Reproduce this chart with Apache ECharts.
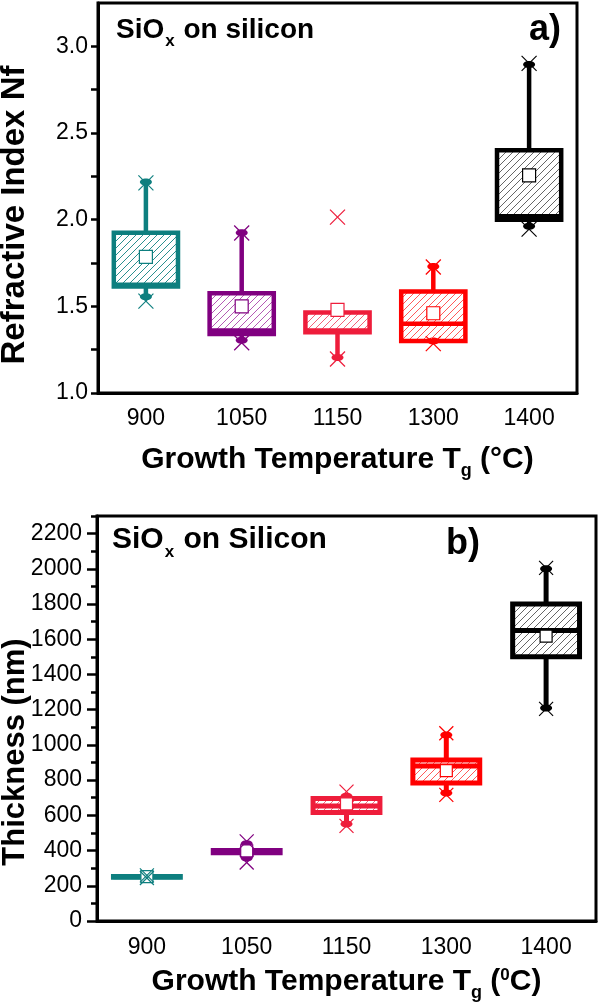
<!DOCTYPE html>
<html><head><meta charset="utf-8">
<script src="https://cdn.jsdelivr.net/npm/echarts@6/dist/echarts.min.js"></script>
<style>html,body{margin:0;padding:0;background:#fff}#c{width:600px;height:1006px}</style>
</head><body><div id="c"></div>
<script>
const F = '"Liberation Sans", Arial, Helvetica, sans-serif';
const categories = ['900', '1050', '1150', '1300', '1400'];
const seriesColors = ['#0E7F7F', '#800080', '#EE1D3B', '#FF0000', '#000000'];
const hatchColors = ['#2A8F8F', '#B45AB4', '#F2637A', '#FF5A5A', '#666666'];

// Panel a) refractive index
const nfWhiskerLow  = [1.555, 1.305, 1.205, 1.300, 1.962];
const nfQ1          = [1.615, 1.340, 1.350, 1.300, 2.000];
const nfMedian      = [1.625, 1.360, 1.360, 1.400, 2.020];
const nfQ3          = [1.925, 1.575, 1.465, 1.585, 2.400];
const nfWhiskerHigh = [2.218, 1.925, 1.465, 1.730, 2.895];
const nfMean        = [1.785, 1.500, 1.480, 1.460, 2.255];
const nfCrossLow    = [1.530, 1.290, 1.196, 1.285, 1.945];
const nfCrossHigh   = [2.212, 1.923, 2.015, 1.727, 2.902];
const nfTickValues  = [1.0, 1.25, 1.5, 1.75, 2.0, 2.25, 2.5, 2.75, 3.0];
const nfLabelValues = [1.0, 1.5, 2.0, 2.5, 3.0];

// Panel b) thickness
const thWhiskerLow  = [246, 358, 551, 727, 1210];
const thQ1          = [249, 388, 616, 784, 1500];
const thMedian      = [251, 394, 653, 880, 1650];
const thQ3          = [253, 400, 696, 915, 1800];
const thWhiskerHigh = [257, 438, 708, 1057, 2000];
const thMean        = [252, 398, 665, 854, 1618];
const thCrossLow    = [244, 332, 540, 716, 1205];
const thCrossHigh   = [259, 452, 735, 1066, 2005];
const thMajorTicks  = [0, 200, 400, 600, 800, 1000, 1200, 1400, 1600, 1800, 2000, 2200];
const thMinorTicks  = [100, 300, 500, 700, 900, 1100, 1300, 1500, 1700, 1900, 2100, 2300];

function hatch(color, s) {
  const cv = document.createElement('canvas');
  cv.width = s; cv.height = s;
  const g = cv.getContext('2d');
  g.strokeStyle = color; g.lineWidth = 1;
  g.beginPath();
  g.moveTo(0, s); g.lineTo(s, 0);
  g.moveTo(-2, 2); g.lineTo(2, -2);
  g.moveTo(s - 2, s + 2); g.lineTo(s + 2, s - 2);
  g.stroke();
  return { image: cv, repeat: 'repeat' };
}
const patterns = hatchColors.map(c => hatch(c, 7));

function buildData(wl, q1, md, q3, wh, mn, xl, xh) {
  return categories.map((c, i) => [i, wl[i], q1[i], md[i], q3[i], wh[i], mn[i], xl[i], xh[i]]);
}

function makeRender(opt) {
  return function (params, api) {
    const i = api.value(0);
    const c = seriesColors[i];
    const band = api.size([1, 0])[0];
    const w = band * opt.boxFrac;
    const cx = api.coord([i, api.value(2)])[0];
    const y = k => api.coord([i, api.value(k)])[1];
    const yWL = y(1), yQ1 = y(2), yMd = y(3), yQ3 = y(4), yWH = y(5), yMn = y(6), yXL = y(7), yXH = y(8);
    const ch = [];
    ch.push({ type: 'line', shape: { x1: cx, y1: yWH, x2: cx, y2: yQ3 }, style: { stroke: c, lineWidth: opt.lw } });
    ch.push({ type: 'line', shape: { x1: cx, y1: yQ1, x2: cx, y2: yWL }, style: { stroke: c, lineWidth: opt.lw } });
    [yWL, yWH].forEach(yy => ch.push({ type: 'ellipse', shape: { cx: cx, cy: yy, rx: opt.dotRx, ry: opt.dotRy }, style: { fill: c } }));
    ch.push({ type: 'rect', shape: { x: cx - w / 2, y: yQ3, width: w, height: yQ1 - yQ3 },
      style: { fill: patterns[i], stroke: c, lineWidth: opt.lw } });
    ch.push({ type: 'line', shape: { x1: cx - w / 2, y1: yMd, x2: cx + w / 2, y2: yMd }, style: { stroke: c, lineWidth: opt.lw } });
    const m = opt.meanSize;
    ch.push({ type: 'rect', shape: { x: cx - m / 2, y: yMn - m / 2, width: m, height: m }, style: { fill: '#fff', stroke: c, lineWidth: 1.2 } });
    const s = opt.cross / 2;
    [yXL, yXH].forEach(yy => {
      ch.push({ type: 'line', shape: { x1: cx - s, y1: yy - s, x2: cx + s, y2: yy + s }, style: { stroke: c, lineWidth: 1.2 } });
      ch.push({ type: 'line', shape: { x1: cx - s, y1: yy + s, x2: cx + s, y2: yy - s }, style: { stroke: c, lineWidth: 1.2 } });
    });
    return { type: 'group', children: ch };
  };
}

const richTitle = {
  m: { fontSize: 30, fontWeight: 'bold', fontFamily: F, color: '#000', verticalAlign: 'top' },
  s: { fontSize: 18, fontWeight: 'bold', fontFamily: F, color: '#000', verticalAlign: 'top', padding: [17, 0, 0, 0] },
  p: { fontSize: 17, fontWeight: 'bold', fontFamily: F, color: '#000', verticalAlign: 'top', padding: [0, 0, 0, 0] }
};

const chart = echarts.init(document.getElementById('c'), null, { renderer: 'canvas' });
chart.setOption({
  animation: false,
  backgroundColor: '#fff',
  grid: [
    { left: 98, top: 3, width: 479, height: 390, show: true, borderColor: '#000', borderWidth: 3, backgroundColor: 'transparent' },
    { left: 97, top: 516, width: 499, height: 405, show: true, borderColor: '#000', borderWidth: 3, backgroundColor: 'transparent' }
  ],
  xAxis: [
    { gridIndex: 0, type: 'category', data: categories, boundaryGap: true,
      axisLine: { lineStyle: { color: '#000', width: 3 } },
      axisTick: { alignWithLabel: true, length: 8, lineStyle: { color: '#000', width: 2.5 } },
      axisLabel: { fontSize: 23, color: '#000', fontFamily: F, margin: 14 },
      name: '{m|Growth Temperature T}{s|g}{m| (°C)}', nameLocation: 'middle', nameGap: 52,
      nameTextStyle: { rich: richTitle } },
    { gridIndex: 1, type: 'category', data: categories, boundaryGap: true,
      axisLine: { lineStyle: { color: '#000', width: 3 } },
      axisTick: { alignWithLabel: true, length: 9, lineStyle: { color: '#000', width: 2.5 } },
      axisLabel: { fontSize: 23, color: '#000', fontFamily: F, margin: 15 },
      name: '{m|Growth Temperature T}{s|g}{m| (}{p|0}{m|C)}', nameLocation: 'middle', nameGap: 46,
      nameTextStyle: { rich: richTitle } }
  ],
  yAxis: [
    { gridIndex: 0, type: 'value', min: 1, max: 3.25, interval: 0.25,
      axisLine: { show: true, lineStyle: { color: '#000', width: 3 } },
      axisTick: { show: true, length: 7, customValues: nfTickValues, lineStyle: { color: '#000', width: 2.5 } },
      axisLabel: { fontSize: 23, color: '#000', fontFamily: F, margin: 10, customValues: nfLabelValues,
        formatter: v => v.toFixed(1) },
      splitLine: { show: false } },
    { gridIndex: 1, type: 'value', min: 0, max: 2300, interval: 100,
      axisLine: { show: true, lineStyle: { color: '#000', width: 3 } },
      axisTick: { show: true, length: 10, customValues: thMajorTicks, lineStyle: { color: '#000', width: 2.5 } },
      axisLabel: { fontSize: 23, color: '#000', fontFamily: F, margin: 15, customValues: thMajorTicks,
        formatter: v => String(v) },
      splitLine: { show: false } },
    { gridIndex: 1, type: 'value', min: 0, max: 2300, interval: 100, position: 'left', offset: 0,
      axisLine: { show: false },
      axisTick: { show: true, length: 6, customValues: thMinorTicks, lineStyle: { color: '#000', width: 2.5 } },
      axisLabel: { show: false }, splitLine: { show: false } }
  ],
  graphic: [
    { type: 'text', x: 15, y: 215, rotation: Math.PI / 2,
      style: { text: 'Refractive Index Nf', font: 'bold 33px ' + F, fill: '#000', align: 'center', verticalAlign: 'middle' } },
    { type: 'text', x: 15, y: 752, rotation: Math.PI / 2,
      style: { text: 'Thickness (nm)', font: 'bold 31px ' + F, fill: '#000', align: 'center', verticalAlign: 'middle' } },
    { type: 'text', left: 116, top: 16,
      style: { text: '{m|SiO}{s|x}{m| on silicon}', rich: {
        m: { fontSize: 28, fontWeight: 'bold', fontFamily: F, fill: '#000', verticalAlign: 'top' },
        s: { fontSize: 17, fontWeight: 'bold', fontFamily: F, fill: '#000', verticalAlign: 'top', padding: [17, 1, 0, 1] } } } },
    { type: 'text', left: 529, top: 12, style: { text: 'a)', font: 'bold 36px ' + F, fill: '#000' } },
    { type: 'text', left: 112, top: 525,
      style: { text: '{m|SiO}{s|x}{m| on Silicon}', rich: {
        m: { fontSize: 30, fontWeight: 'bold', fontFamily: F, fill: '#000', verticalAlign: 'top' },
        s: { fontSize: 17, fontWeight: 'bold', fontFamily: F, fill: '#000', verticalAlign: 'top', padding: [19, 1, 0, 1] } } } },
    { type: 'text', left: 446, top: 526, style: { text: 'b)', font: 'bold 36px ' + F, fill: '#000' } }
  ],
  series: [
    { type: 'custom', xAxisIndex: 0, yAxisIndex: 0,
      renderItem: makeRender({ boxFrac: 0.67, lw: 4.5, meanSize: 13, cross: 15, dotRx: 6, dotRy: 3.5 }),
      data: buildData(nfWhiskerLow, nfQ1, nfMedian, nfQ3, nfWhiskerHigh, nfMean, nfCrossLow, nfCrossHigh),
      encode: { x: 0, y: [1, 2, 3, 4, 5] }, z: 5 },
    { type: 'custom', xAxisIndex: 1, yAxisIndex: 1,
      renderItem: makeRender({ boxFrac: 0.67, lw: 5, meanSize: 12, cross: 14, dotRx: 6, dotRy: 3.5 }),
      data: buildData(thWhiskerLow, thQ1, thMedian, thQ3, thWhiskerHigh, thMean, thCrossLow, thCrossHigh),
      encode: { x: 0, y: [1, 2, 3, 4, 5] }, z: 5 }
  ]
});
</script></body></html>
